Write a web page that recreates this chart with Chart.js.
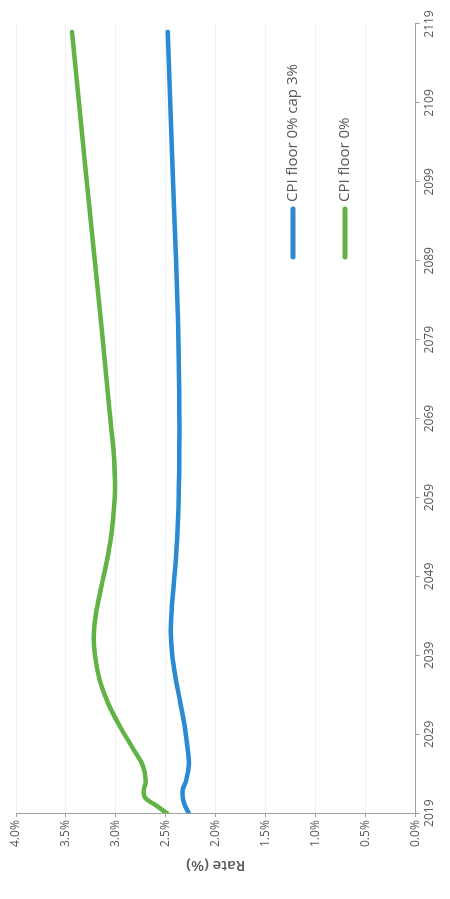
<!DOCTYPE html>
<html>
<head>
<meta charset="utf-8">
<script src="https://cdn.jsdelivr.net/npm/chart.js@4.4.1/dist/chart.umd.min.js"></script>
<style>
    html, body { margin: 0; padding: 0; background: #fff; overflow: hidden; }
    /* el gráfico original está girado 90° en la foto */
    #wrap {
        position: absolute; left: 0; top: 0;
        width: 899px; height: 450px;
        transform-origin: 0 0;
        transform: translateY(899px) rotate(-90deg);
    }
</style>
</head>
<body>
<div id="wrap"><canvas id="rateChart" width="899" height="450"></canvas></div>
<script>
// Datos
const years = [2019, 2020, 2021, 2022, 2023, 2025, 2027, 2030, 2033, 2036, 2039, 2042, 2045, 2048, 2051, 2054, 2057, 2060, 2065, 2070, 2080, 2090, 2100, 2118];
const capSeries = [2.27, 2.31, 2.33, 2.33, 2.30, 2.27, 2.28, 2.31, 2.355, 2.40, 2.435, 2.45, 2.44, 2.42, 2.40, 2.385, 2.375, 2.37, 2.365, 2.365, 2.375, 2.40, 2.43, 2.48];
const floorSeries = [2.49, 2.60, 2.71, 2.72, 2.70, 2.73, 2.82, 2.96, 3.08, 3.165, 3.21, 3.22, 3.19, 3.14, 3.09, 3.05, 3.025, 3.01, 3.025, 3.065, 3.14, 3.22, 3.30, 3.44];
const seriesNames = ['CPI floor 0% cap 3%', 'CPI floor 0%'];

const textGrey = '#595959';

// Leyenda dibujada dentro del área del gráfico
const insideLegend = {
    id: 'insideLegend',
    afterDraw(chart) {
        const ctx = chart.ctx;
        const area = chart.chartArea;
        const x0 = area.right - 233;
        ctx.save();
        ctx.font = '15px "Open Sans"';
        ctx.textBaseline = 'middle';
        chart.data.datasets.forEach((ds, i) => {
            const y = area.top + 277 + i * 52;
            ctx.strokeStyle = ds.borderColor;
            ctx.lineWidth = 5;
            ctx.lineCap = 'round';
            ctx.beginPath();
            ctx.moveTo(x0, y);
            ctx.lineTo(x0 + 48, y);
            ctx.stroke();
            ctx.fillStyle = textGrey;
            ctx.fillText(ds.label, x0 + 55, y);
        });
        ctx.restore();
    }
};

const ctx = document.getElementById('rateChart').getContext('2d');
new Chart(ctx, {
    type: 'line',
    data: {
        datasets: [{
            label: seriesNames[0],
            data: years.map((y, i) => ({ x: y, y: capSeries[i] })),
            borderColor: '#2a8bd3',
            borderWidth: 4.5,
            pointRadius: 0,
            tension: 0.4,
            borderCapStyle: 'round'
        }, {
            label: seriesNames[1],
            data: years.map((y, i) => ({ x: y, y: floorSeries[i] })),
            borderColor: '#62b346',
            borderWidth: 4.5,
            pointRadius: 0,
            tension: 0.4,
            borderCapStyle: 'round'
        }]
    },
    options: {
        responsive: false,
        animation: false,
        layout: { padding: { top: 16, right: 24, bottom: 10, left: 21 } },
        plugins: {
            legend: { display: false },
            tooltip: { enabled: false }
        },
        scales: {
            x: {
                type: 'linear',
                min: 2019,
                max: 2119,
                ticks: {
                    stepSize: 10,
                    color: textGrey,
                    font: { family: 'Open Sans', size: 12 },
                    maxRotation: 0,
                    callback: v => String(v)
                },
                grid: { drawOnChartArea: false, drawTicks: true, tickLength: 4, tickColor: '#a0a0a0' },
                border: { color: '#a0a0a0', width: 1 }
            },
            y: {
                min: 0,
                max: 4,
                ticks: {
                    stepSize: 0.5,
                    color: textGrey,
                    font: { family: 'Open Sans', size: 12 },
                    callback: v => v.toFixed(1) + '%'
                },
                grid: { color: '#f0f0f0', tickLength: 4, tickColor: '#a0a0a0' },
                border: { color: '#a0a0a0', width: 1 },
                title: {
                    display: true,
                    text: 'Rate (%)',
                    color: textGrey,
                    font: { family: 'Open Sans', size: 15, weight: '600' },
                    padding: { top: 4, bottom: 6 }
                }
            }
        }
    },
    plugins: [insideLegend]
});
</script>
</body>
</html>
